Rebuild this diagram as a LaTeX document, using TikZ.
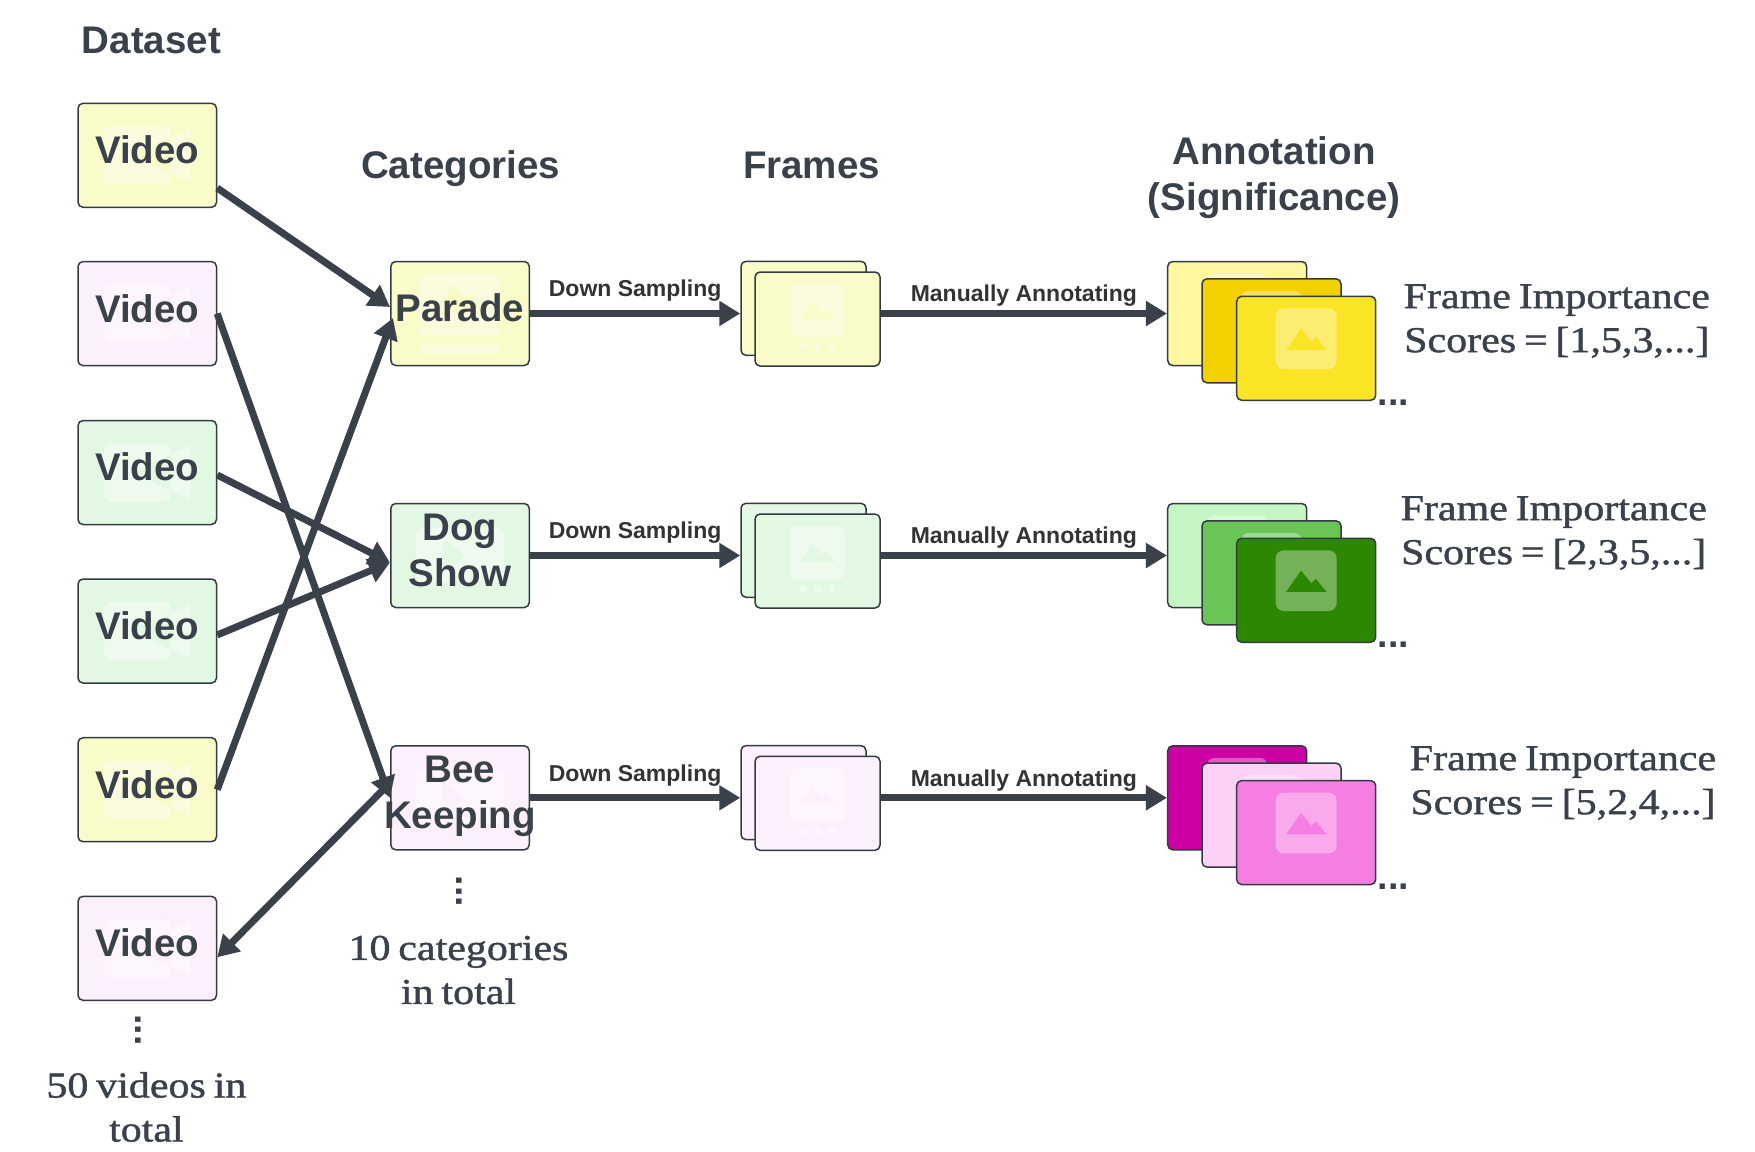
\documentclass[tikz,border=0pt]{standalone}
\usepackage{fontspec}
\usetikzlibrary{arrows.meta}
\setmainfont{Liberation Sans}
\newfontfamily\scorefont[FakeBold=1.2,FakeStretch=1.15,WordSpace=0.75]{Liberation Serif}
\definecolor{inkcol}{HTML}{3A414A}
\definecolor{edgecol}{HTML}{333A44}
\definecolor{paleyellow}{HTML}{F9FBC8}
\definecolor{palepink}{HTML}{FDF0FD}
\definecolor{palegreen}{HTML}{E3F8E3}
\tikzset{
  boxbase/.style={draw=edgecol,line width=1.5pt,rounded corners=5pt,inner sep=0pt},
  itembox/.style={boxbase,minimum width=138.5pt,minimum height=104pt},
  itemtext/.style={inner sep=0pt,align=center,text=inkcol,text depth=11pt,font=\fontsize{38.5}{46}\selectfont\bfseries},
  framebox/.style={boxbase,minimum width=125pt,minimum height=94pt},
  markbox/.style={boxbase,minimum width=139pt,minimum height=104pt},
  conn/.style={-{Triangle[length=21pt,width=24pt]},line width=7pt,color=inkcol},
  headtext/.style={text=inkcol,anchor=base,align=center,font=\fontsize{38.5}{46}\selectfont\bfseries},
  steptext/.style={text=black!80,anchor=base,font=\fontsize{23}{26}\selectfont\bfseries},
  scoretext/.style={text=inkcol,align=center,font=\fontsize{36.5}{44}\selectfont\scorefont},
  moretext/.style={text=inkcol,anchor=base,font=\fontsize{37.5}{46}\selectfont\bfseries},
  videopic/.style={path picture={
    \fill[white,opacity=.4,even odd rule,shift={(path picture bounding box.center)}]
      [rounded corners=7pt] (-43,-29) rectangle (23.5,29)
      [sharp corners] (-17,0) -- (43,-27) -- (43,27) -- cycle;}},
  playpic/.style={path picture={
    \fill[white,opacity=.4,even odd rule,shift={(path picture bounding box.center)}]
      [rounded corners=7pt] (-44,-28) rectangle (44,26)
      [sharp corners] (-17,-18) -- (5,0) -- (-17,18) -- cycle;}},
  photopic/.style={path picture={
    \fill[white,opacity=.4,even odd rule,shift={(path picture bounding box.center)}]
      [rounded corners=7pt] (-40,-39.5) rectangle (39.5,12.5)
      [sharp corners] (-27,0) -- (-7,-30) -- (3,-18) -- (9,-20) -- (27,0) -- cycle
      (-40,14) rectangle (39.5,22) (-40,31) rectangle (39.5,40);}},
  framepic/.style={path picture={
    \fill[white,opacity=.4,even odd rule,shift={(path picture bounding box.center)}]
      [rounded corners=7pt] (-27,-35.3) rectangle (27,18.3)
      [sharp corners] (-18,1.3) -- (-5,-17.7) -- (4.5,-6.5) -- (8.5,-10.5) -- (18,1.3) -- cycle;
    \fill[white,opacity=.4,shift={(path picture bounding box.center)}]
      (-14.5,27.7) circle (4) (0,27.7) circle (4) (14.5,27.7) circle (4);}},
  markpic/.style={path picture={
    \fill[white,opacity=.35,even odd rule,shift={(path picture bounding box.center)}]
      [rounded corners=8pt] (-30.5,-40) rectangle (30.5,20.7)
      [sharp corners] (-20.4,1.7) -- (-5.2,-20) -- (5.1,-7.3) -- (9.8,-11.6) -- (20.5,1.7) -- cycle;}}
}
\begin{document}
\begin{tikzpicture}[line join=round,x=1pt,y=-1pt]
\useasboundingbox (0,0) rectangle (1755,1151);
% dataset column
\node[headtext] (datasethead) at (151.5,53.3) {Dataset};
\node[itembox,videopic,fill=paleyellow] (video1) at (147.25,155.3) {};
\node[itemtext] (videotext1) at (video1) {Video};
\node[itembox,videopic,fill=palepink] (video2) at (147.25,313.6) {};
\node[itemtext] (videotext2) at (video2) {Video};
\node[itembox,videopic,fill=palegreen] (video3) at (147.25,472.5) {};
\node[itemtext] (videotext3) at (video3) {Video};
\node[itembox,videopic,fill=palegreen] (video4) at (147.25,631) {};
\node[itemtext] (videotext4) at (video4) {Video};
\node[itembox,videopic,fill=paleyellow] (video5) at (147.25,789.7) {};
\node[itemtext] (videotext5) at (video5) {Video};
\node[itembox,videopic,fill=palepink] (video6) at (147.25,948.3) {};
\node[itemtext] (videotext6) at (video6) {Video};
\node[moretext,rotate=-90] (videodots) at (135.5,1030) {...};
\node[scoretext] (videototal) at (146.4,1107) {50 videos in\\total};
% categories column
\node[headtext] (cathead) at (460.6,178.7) {Categories};
\node[itembox,photopic,fill=paleyellow] (parade) at (460,313.5) {};
\node[itemtext] (paradetext) at (parade) {Parade};
\node[itembox,playpic,fill=palegreen] (dogshow) at (460,555.5) {};
\node[itemtext] (dogshowtext) at (dogshow) {Dog\\Show};
\node[itembox,playpic,fill=palepink] (beekeeping) at (460,797.8) {};
\node[moretext,rotate=-90] (catdots) at (456.5,891.3) {...};
\node[scoretext] (cattotal) at (458.5,970) {10 categories\\in total};
% frames column
\node[headtext] (framehead) at (811.5,178.7) {Frames};
\node[framebox,framepic,fill=paleyellow] (frameA) at (803.5,308.3) {};
\node[framebox,framepic,fill=paleyellow] (frameB) at (817.5,319) {};
\node[framebox,framepic,fill=palegreen] (frameC) at (803.5,550.3) {};
\node[framebox,framepic,fill=palegreen] (frameD) at (817.5,561) {};
\node[framebox,framepic,fill=palepink] (frameE) at (803.5,792.6) {};
\node[framebox,framepic,fill=palepink] (frameF) at (817.5,803.3) {};
% annotation column
\node[headtext] (markhead) at (1274,210) {Annotation\\(Significance)};
\node[markbox,markpic,fill={rgb,255:red,253;green,247;blue,160}] (markA) at (1237.2,313.5) {};
\node[markbox,markpic,fill={rgb,255:red,243;green,209;blue,0}] (markB) at (1271.5,330.8) {};
\node[markbox,markpic,fill={rgb,255:red,249;green,228;blue,37}] (markC) at (1306.2,348.3) {};
\node[moretext] (markdotsA) at (1393.5,405) {...};
\node[markbox,markpic,fill={rgb,255:red,197;green,246;blue,195}] (markD) at (1237.2,555.5) {};
\node[markbox,markpic,fill={rgb,255:red,105;green,198;blue,86}] (markE) at (1271.5,572.8) {};
\node[markbox,markpic,fill={rgb,255:red,44;green,136;blue,0}] (markF) at (1306.2,590.3) {};
\node[moretext] (markdotsB) at (1393.5,647) {...};
\node[markbox,markpic,fill={rgb,255:red,204;green,0;blue,163}] (markG) at (1237.2,797.8) {};
\node[markbox,markpic,fill={rgb,255:red,253;green,208;blue,245}] (markH) at (1271.5,815.1) {};
\node[markbox,markpic,fill={rgb,255:red,246;green,125;blue,226}] (markI) at (1306.2,832.6) {};
\node[moretext] (markdotsC) at (1393.5,889.3) {...};
% scores
\node[scoretext] (scoreA) at (1556.8,321) {Frame Importance\\Scores = [1,5,3,...]};
\node[scoretext] (scoreB) at (1553.7,533) {Frame Importance\\Scores = [2,3,5,...]};
\node[scoretext] (scoreC) at (1563,783) {Frame Importance\\Scores = [5,2,4,...]};
% connectors
\draw[conn] ([yshift=-32.7pt]video1.east) -- ([yshift=6.5pt]parade.west);
\draw[conn] (video2.east) -- (beekeeping.west);
\draw[conn] ([yshift=-2.5pt]video3.east) -- ([yshift=-7pt]dogshow.west);
\draw[conn] ([yshift=-4pt]video4.east) -- ([yshift=-7pt]dogshow.west);
\draw[conn] (video5.east) -- ([xshift=3pt,yshift=-4.5pt]parade.west);
\draw[conn] ([xshift=-2pt,yshift=13pt]beekeeping.west) -- ([yshift=-9pt]video6.east);
\draw[conn] (parade.east) -- node[steptext,above=5pt] (downA) {Down Sampling} ([yshift=-5.2pt]frameA.west);
\draw[conn] (dogshow.east) -- node[steptext,above=5pt] (downB) {Down Sampling} ([yshift=-5.2pt]frameC.west);
\draw[conn] (beekeeping.east) -- node[steptext,above=5pt] (downC) {Down Sampling} ([yshift=-5.2pt]frameE.west);
\draw[conn] ([yshift=5.5pt]frameB.east) -- node[steptext,above=0pt] (noteA) {Manually Annotating} (markA.west);
\draw[conn] ([yshift=5.5pt]frameD.east) -- node[steptext,above=0pt] (noteB) {Manually Annotating} (markD.west);
\draw[conn] ([yshift=5.5pt]frameF.east) -- node[steptext,above=0pt] (noteC) {Manually Annotating} (markG.west);
\node[itemtext] (beetext) at (beekeeping) {Bee\\Keeping};
\end{tikzpicture}
\end{document}
